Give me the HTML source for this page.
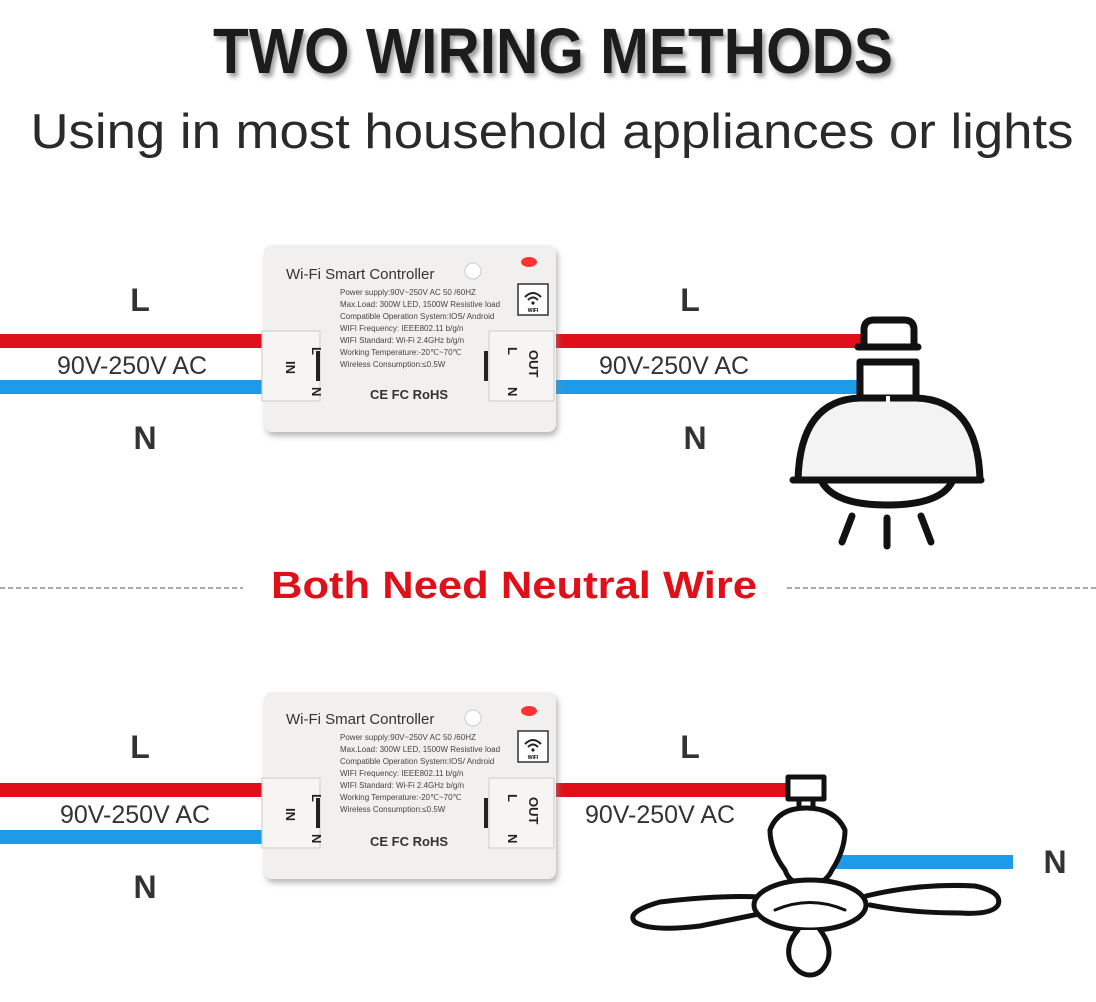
<!DOCTYPE html>
<html><head><meta charset="utf-8"><style>
html,body{margin:0;padding:0;background:#fff}
svg{display:block}
text{font-family:"Liberation Sans",sans-serif}
</style></head><body>
<svg width="1096" height="1002" viewBox="0 0 1096 1002" xmlns="http://www.w3.org/2000/svg">
<defs>
<filter id="sh" x="-5%" y="-5%" width="110%" height="115%"><feDropShadow dx="2" dy="4" stdDeviation="3" flood-color="#888" flood-opacity="0.6"/></filter>
<filter id="ts"><feDropShadow dx="3" dy="4" stdDeviation="2" flood-color="#777" flood-opacity="0.7"/></filter>
</defs>
<text x="553" y="73" text-anchor="middle" font-size="64" font-weight="bold" fill="#1a1a1a" textLength="680" lengthAdjust="spacingAndGlyphs" filter="url(#ts)">TWO WIRING METHODS</text>
<text x="552" y="148" text-anchor="middle" font-size="49" fill="#2a2a2a" textLength="1043" lengthAdjust="spacingAndGlyphs">Using in most household appliances or lights</text>

<!-- divider -->
<line x1="0" y1="588" x2="243" y2="588" stroke="#555" stroke-width="1" stroke-dasharray="5,3"/>
<line x1="787" y1="588" x2="1096" y2="588" stroke="#555" stroke-width="1" stroke-dasharray="5,3"/>
<text x="514" y="598" text-anchor="middle" font-size="38" font-weight="bold" fill="#e0101a" textLength="486" lengthAdjust="spacingAndGlyphs">Both Need Neutral Wire</text>

<!-- TOP wires -->
<rect x="0" y="334" width="264" height="14" fill="#e0101a"/>
<rect x="0" y="380" width="264" height="14" fill="#1e9be8"/>
<rect x="556" y="334" width="305" height="14" fill="#e0101a"/>
<rect x="556" y="380" width="305" height="14" fill="#1e9be8"/>
<text x="140" y="311" text-anchor="middle" font-size="32" font-weight="bold" fill="#333">L</text>
<text x="145" y="449" text-anchor="middle" font-size="32" font-weight="bold" fill="#333">N</text>
<text x="132" y="374" text-anchor="middle" font-size="25" fill="#333">90V-250V AC</text>
<text x="690" y="311" text-anchor="middle" font-size="32" font-weight="bold" fill="#333">L</text>
<text x="695" y="449" text-anchor="middle" font-size="32" font-weight="bold" fill="#333">N</text>
<text x="674" y="374" text-anchor="middle" font-size="25" fill="#333">90V-250V AC</text>

<!-- bulb -->
<g stroke="#111" stroke-width="7" fill="#f3f3f3" stroke-linecap="round" stroke-linejoin="round">
<path d="M864 347 V330 Q864 320 874 320 H904 Q914 320 914 330 V347" fill="#fff"/>
<line x1="858" y1="347" x2="918" y2="347"/>
<line x1="860" y1="362" x2="916" y2="362"/>
<path d="M860 362 V398 M916 362 V398" fill="none"/>
<path d="M798 480 Q800 400 860 398 L888 398 L916 398 Q978 400 980 480 Z"/>
<line x1="793" y1="480" x2="981" y2="480"/>
<path d="M822 482 Q835 505 887 505 Q940 505 952 482" fill="none"/>
<line x1="852" y1="516" x2="842" y2="542"/>
<line x1="887" y1="518" x2="887" y2="546"/>
<line x1="921" y1="516" x2="931" y2="542"/>
</g>
<line x1="888" y1="396" x2="888" y2="402" stroke="#fff" stroke-width="4"/>

<!-- BOTTOM wires -->
<rect x="0" y="783" width="264" height="14" fill="#e0101a"/>
<rect x="0" y="830" width="264" height="14" fill="#1e9be8"/>
<rect x="556" y="783" width="234" height="14" fill="#e0101a"/>
<rect x="835" y="855" width="178" height="14" fill="#1e9be8"/>
<text x="140" y="758" text-anchor="middle" font-size="32" font-weight="bold" fill="#333">L</text>
<text x="145" y="898" text-anchor="middle" font-size="32" font-weight="bold" fill="#333">N</text>
<text x="135" y="823" text-anchor="middle" font-size="25" fill="#333">90V-250V AC</text>
<text x="690" y="758" text-anchor="middle" font-size="32" font-weight="bold" fill="#333">L</text>
<text x="1055" y="873" text-anchor="middle" font-size="32" font-weight="bold" fill="#333">N</text>
<text x="660" y="823" text-anchor="middle" font-size="25" fill="#333">90V-250V AC</text>

<!-- fan -->
<g stroke="#111" stroke-width="5" fill="#fff" stroke-linecap="round" stroke-linejoin="round">
<rect x="788" y="777" width="36" height="22" stroke-width="5"/>
<path d="M799 800 V810 M813 800 V810" fill="none"/>
<path d="M806 808 Q835 808 845 830 Q845 850 832 870 Q825 885 808 885 Q790 885 785 870 Q770 850 770 830 Q778 808 806 808 Z"/>
<path d="M760 897 Q720 895 660 902 Q625 912 635 922 Q650 932 700 926 Q740 918 764 913" />
<path d="M866 896 Q920 883 975 886 Q1003 892 998 905 Q992 915 960 913 Q910 913 870 905" />
<ellipse cx="810" cy="905" rx="56" ry="25"/>
<path d="M775 910 Q810 895 845 910" fill="none" stroke-width="3"/>
<path d="M798 930 Q785 945 790 960 Q798 975 810 975 Q822 975 828 960 Q832 945 820 930" />
</g>

<!-- controller TOP -->
<g transform="translate(262,243)">
<rect x="2" y="2" width="292" height="187" rx="8" fill="#f2f0ef" filter="url(#sh)"/>
<rect x="0" y="88" width="58" height="70" fill="#f6f5f4" stroke="#ccc" stroke-width="1"/>
<rect x="227" y="88" width="65" height="70" fill="#f6f5f4" stroke="#ccc" stroke-width="1"/>
<rect x="54" y="108" width="4" height="30" fill="#222"/>
<rect x="222" y="108" width="4" height="30" fill="#222"/>
<text x="24" y="36" font-size="15" fill="#333">Wi-Fi Smart Controller</text>
<circle cx="211" cy="28" r="8" fill="#fff" stroke="#ccc"/>
<ellipse cx="267" cy="19" rx="8" ry="5" fill="#f33"/>
<rect x="256" y="41" width="30" height="31" fill="#fff" stroke="#333" stroke-width="1.5"/>
<path d="M263 54 Q271 46 279 54 M266 57 Q271 52 276 57" stroke="#222" stroke-width="2" fill="none"/>
<circle cx="271" cy="60" r="1.6" fill="#222"/>
<text x="271" y="69" font-size="5" text-anchor="middle" font-weight="bold">WIFI</text>
<g font-size="8" fill="#444">
<text x="78" y="52">Power supply:90V~250V AC 50 /60HZ</text>
<text x="78" y="64">Max.Load: 300W LED, 1500W Resistive load</text>
<text x="78" y="76">Compatible Operation System:IOS/ Android</text>
<text x="78" y="88">WIFI Frequency: IEEE802.11 b/g/n</text>
<text x="78" y="100">WIFI Standard: Wi-Fi 2.4GHz b/g/n</text>
<text x="78" y="112">Working Temperature:-20℃~70℃</text>
<text x="78" y="124">Wireless Consumption:≤0.5W</text>
</g>
<text x="108" y="156" font-size="13" font-weight="bold" fill="#333">CE FC RoHS</text>
<g font-size="13" font-weight="bold" fill="#222">
<text transform="translate(50,104) rotate(90)">L</text>
<text transform="translate(50,144) rotate(90)">N</text>
<text transform="translate(24,118) rotate(90)">IN</text>
<text transform="translate(246,104) rotate(90)">L</text>
<text transform="translate(246,144) rotate(90)">N</text>
<text transform="translate(267,107) rotate(90)">OUT</text>
</g>
</g>

<!-- controller BOTTOM -->
<g transform="translate(262,690)">
<rect x="2" y="2" width="292" height="187" rx="8" fill="#f2f0ef" filter="url(#sh)"/>
<rect x="0" y="88" width="58" height="70" fill="#f6f5f4" stroke="#ccc" stroke-width="1"/>
<rect x="227" y="88" width="65" height="70" fill="#f6f5f4" stroke="#ccc" stroke-width="1"/>
<rect x="54" y="108" width="4" height="30" fill="#222"/>
<rect x="222" y="108" width="4" height="30" fill="#222"/>
<text x="24" y="34" font-size="15" fill="#333">Wi-Fi Smart Controller</text>
<circle cx="211" cy="28" r="8" fill="#fff" stroke="#ccc"/>
<ellipse cx="267" cy="21" rx="8" ry="5" fill="#f33"/>
<rect x="256" y="41" width="30" height="31" fill="#fff" stroke="#333" stroke-width="1.5"/>
<path d="M263 54 Q271 46 279 54 M266 57 Q271 52 276 57" stroke="#222" stroke-width="2" fill="none"/>
<circle cx="271" cy="60" r="1.6" fill="#222"/>
<text x="271" y="69" font-size="5" text-anchor="middle" font-weight="bold">WIFI</text>
<g font-size="8" fill="#444">
<text x="78" y="50">Power supply:90V~250V AC 50 /60HZ</text>
<text x="78" y="62">Max.Load: 300W LED, 1500W Resistive load</text>
<text x="78" y="74">Compatible Operation System:IOS/ Android</text>
<text x="78" y="86">WIFI Frequency: IEEE802.11 b/g/n</text>
<text x="78" y="98">WIFI Standard: Wi-Fi 2.4GHz b/g/n</text>
<text x="78" y="110">Working Temperature:-20℃~70℃</text>
<text x="78" y="122">Wireless Consumption:≤0.5W</text>
</g>
<text x="108" y="156" font-size="13" font-weight="bold" fill="#333">CE FC RoHS</text>
<g font-size="13" font-weight="bold" fill="#222">
<text transform="translate(50,104) rotate(90)">L</text>
<text transform="translate(50,144) rotate(90)">N</text>
<text transform="translate(24,118) rotate(90)">IN</text>
<text transform="translate(246,104) rotate(90)">L</text>
<text transform="translate(246,144) rotate(90)">N</text>
<text transform="translate(267,107) rotate(90)">OUT</text>
</g>
</g>
</svg>
</body></html>
